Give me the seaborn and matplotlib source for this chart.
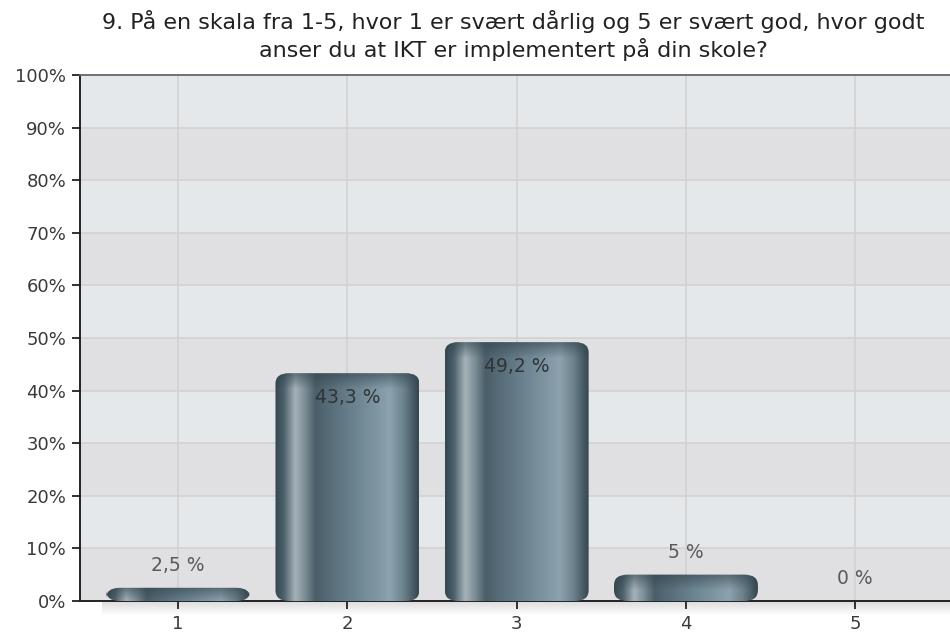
import numpy as np
import pandas as pd
import matplotlib
matplotlib.use("Agg")
import matplotlib.pyplot as plt
from matplotlib.colors import LinearSegmentedColormap
from matplotlib.patches import FancyBboxPatch
import seaborn as sns

categories = ["1", "2", "3", "4", "5"]
shares = [2.5, 43.3, 49.2, 5.0, 0.0]
value_labels = ["2,5 %", "43,3 %", "49,2 %", "5 %", "0 %"]
title = ("9. På en skala fra 1-5, hvor 1 er svært dårlig og 5 er svært god, hvor godt\n"
         "anser du at IKT er implementert på din skole?")

sns.set_theme(style="white")
plt.rcParams["font.family"] = ["DejaVu Sans"]

fig = plt.figure(figsize=(9.5, 6.37), dpi=100)
ax = fig.add_axes([80 / 950, 1 - 601 / 637, 870 / 950, 526 / 637])

df = pd.DataFrame({"cat": categories, "share": shares})
sns.barplot(data=df, x="cat", y="share", ax=ax, width=0.85,
            color="#5f7682", saturation=1, zorder=3)
bars = list(ax.patches)

ax.set_xlim(-0.58, 4.56)
ax.set_ylim(0, 100)

# alternating horizontal bands and grid
for i in range(10):
    ax.axhspan(i * 10, (i + 1) * 10, color="#e0e0e2" if i % 2 == 0 else "#e4e8eb",
               zorder=0, lw=0)
for y in range(10, 100, 10):
    ax.axhline(y, color="#d2d2d2", lw=1.2, zorder=1)
for x in range(len(categories)):
    ax.axvline(x, color="#d2d2d2", lw=1.2, zorder=1)

# cylinder shading for the bars
shade = LinearSegmentedColormap.from_list("cyl", [
    (0.00, "#34464f"), (0.06, "#4c616b"), (0.14, "#a6b2b9"), (0.21, "#7a8c94"),
    (0.28, "#4b5f69"), (0.55, "#6b8390"), (0.80, "#8ca2ae"), (0.90, "#6a7f8a"),
    (1.00, "#34464f")])
cap = LinearSegmentedColormap.from_list(
    "cap", [(0, (0.2, 0.27, 0.3, 0.0)), (1, (0.2, 0.27, 0.3, 0.6))])
grad = np.linspace(0, 1, 256)[None, :]
for patch in bars:
    x0, w, h = patch.get_x(), patch.get_width(), patch.get_height()
    patch.set_visible(False)
    if h <= 0:
        continue
    r = 0.08
    ry = min(h, 2.0)
    rounded = FancyBboxPatch((x0, 0), w, h,
                             boxstyle=f"round,pad=0,rounding_size={r}",
                             mutation_aspect=ry / r, facecolor="none",
                             edgecolor="none", transform=ax.transData)
    ax.add_patch(rounded)
    im = ax.imshow(grad, cmap=shade, extent=(x0, x0 + w, 0, h), aspect="auto",
                   zorder=3, interpolation="bilinear")
    im.set_clip_path(rounded)
    top = ax.imshow(np.linspace(0, 1, 64)[:, None] * np.ones((1, 2)), cmap=cap,
                    extent=(x0, x0 + w, max(h - 3.0, 0), h), aspect="auto",
                    zorder=4, origin="lower", interpolation="bilinear")
    top.set_clip_path(rounded)

# soft shadow beneath the baseline
shadow = LinearSegmentedColormap.from_list(
    "sh", [(0, (0.6, 0.6, 0.6, 0.35)), (1, (0.6, 0.6, 0.6, 0.0))])
ax.imshow(np.linspace(0, 1, 32)[:, None] * np.ones((1, 2)), cmap=shadow,
          extent=(-0.45, 4.56, -2.8, 0), aspect="auto", zorder=0,
          interpolation="bilinear", clip_on=False)

ax.set_xlim(-0.58, 4.56)
ax.set_ylim(0, 100)

for i, (v, lab) in enumerate(zip(shares, value_labels)):
    if v > 20:
        ax.text(i, v - 4.6, lab, ha="center", va="center", fontsize=13.5,
                color="#2f3538", zorder=6)
    else:
        ax.text(i, v + 4.2, lab, ha="center", va="center", fontsize=13.5,
                color="#5a5a5a", zorder=6)

ax.set_yticks(range(0, 101, 10))
ax.set_yticklabels([f"{t}%" for t in range(0, 101, 10)])
ax.tick_params(axis="both", labelsize=13, labelcolor="#3a3a3a", direction="out",
               length=6, width=1.3, color="#222222", left=True, bottom=True, pad=4)
ax.set_xlabel("")
ax.set_ylabel("")
for side in ["left", "bottom"]:
    ax.spines[side].set_color("#222222")
    ax.spines[side].set_linewidth(1.4)
ax.spines["top"].set_color("#666666")
ax.spines["top"].set_linewidth(1.3)
ax.spines["right"].set_visible(False)
ax.grid(False)

fig.text(513 / 950, 1 - 35.5 / 637, title, ha="center", va="center", fontsize=16,
         color="#222222", linespacing=1.22)

fig.savefig("out.png", dpi=100)
